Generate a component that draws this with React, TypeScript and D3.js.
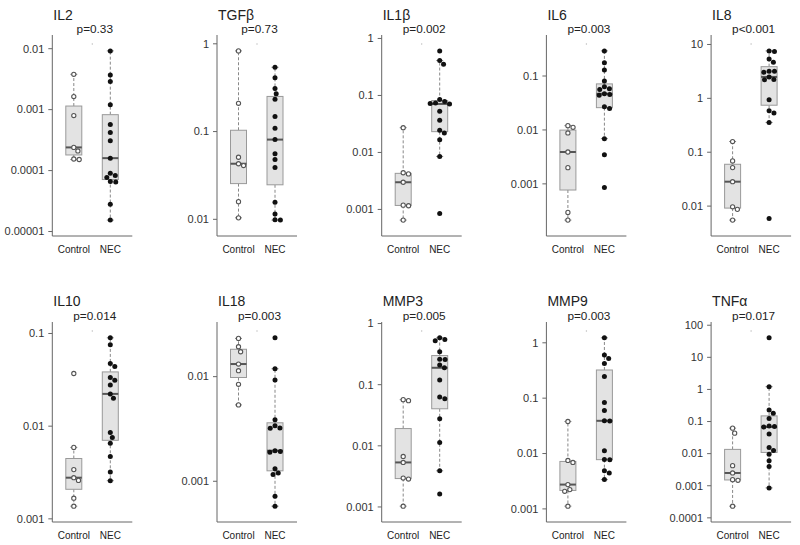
import React from "react";
import * as d3 from "d3";

// values (relative expression, log scale)
const il2Control = [0.0038, 0.00164, 0.0008, 0.00024, 0.00021, 0.000155, 0.000152];
const il2Nec = [0.0092, 0.0037, 0.0029, 0.0012, 0.00057, 0.00042, 0.00031, 0.00016, 0.00009, 0.000083, 0.000077, 0.000066, 0.000065, 0.000028, 0.0000154];

const tgfbControl = [0.83, 0.21, 0.051, 0.043, 0.041, 0.0159, 0.0104];
const tgfbNec = [0.54, 0.41, 0.31, 0.27, 0.234, 0.148, 0.109, 0.081, 0.056, 0.048, 0.039, 0.0157, 0.0115, 0.0099, 0.0098];

const il1bControl = [0.0272, 0.0044, 0.0042, 0.003, 0.00119, 0.00116, 0.00065];
const il1bNec = [0.605, 0.41, 0.352, 0.085, 0.078, 0.074, 0.072, 0.071, 0.053, 0.0367, 0.0245, 0.0219, 0.0167, 0.0085, 0.00085];

const il6Control = [0.012, 0.0112, 0.0088, 0.0039, 0.002, 0.000296, 0.000213];
const il6Nec = [0.292, 0.177, 0.129, 0.0807, 0.0632, 0.058, 0.0564, 0.0469, 0.0455, 0.0442, 0.0268, 0.025, 0.0069, 0.00347, 0.00086];

const il8Control = [0.158, 0.069, 0.0518, 0.0284, 0.0097, 0.0087, 0.0055];
const il8Nec = [7.6, 7.4, 5.4, 4.69, 3.2, 3.18, 3.05, 2.5, 2.24, 2.22, 0.944, 0.589, 0.533, 0.357, 0.0059];

const il10Control = [0.037, 0.0059, 0.0034, 0.00278, 0.0026, 0.00167, 0.00137];
const il10Nec = [0.0898, 0.0755, 0.0475, 0.0441, 0.0336, 0.0312, 0.0278, 0.0223, 0.02, 0.00855, 0.00755, 0.00656, 0.00472, 0.0032, 0.00258];

const il18Control = [0.0232, 0.0193, 0.0173, 0.0132, 0.0114, 0.00845, 0.00537];
const il18Nec = [0.0235, 0.0119, 0.0093, 0.00387, 0.00339, 0.00323, 0.00321, 0.00196, 0.00193, 0.00189, 0.00132, 0.0012, 0.00116, 0.00072, 0.000578];

const mmp3Control = [0.0569, 0.0548, 0.0067, 0.00535, 0.00297, 0.00286, 0.00103];
const mmp3Nec = [0.584, 0.548, 0.521, 0.345, 0.26, 0.258, 0.209, 0.189, 0.119, 0.063, 0.059, 0.0276, 0.0113, 0.0039, 0.00163];

const mmp9Control = [0.0379, 0.0075, 0.0069, 0.00275, 0.00223, 0.00208, 0.00112];
const mmp9Nec = [1.23, 0.6, 0.523, 0.425, 0.245, 0.0832, 0.0598, 0.039, 0.0388, 0.0112, 0.0078, 0.0077, 0.0049, 0.00445, 0.00338];

const tnfaControl = [0.0622, 0.0435, 0.00423, 0.0025, 0.00155, 0.00148, 0.000231];
const tnfaNec = [40.5, 1.22, 0.23, 0.18, 0.125, 0.072, 0.07, 0.068, 0.0406, 0.0156, 0.0125, 0.0095, 0.006, 0.004, 0.000857];

const titles = ["IL2", "TGFβ", "IL1β", "IL6", "IL8", "IL10", "IL18", "MMP3", "MMP9", "TNFα"];
const pLabels = ["p=0.33", "p=0.73", "p=0.002", "p=0.003", "p<0.001", "p=0.014", "p=0.003", "p=0.005", "p=0.003", "p=0.017"];
const groups = ["Control", "NEC"];
const controls = [il2Control, tgfbControl, il1bControl, il6Control, il8Control, il10Control, il18Control, mmp3Control, mmp9Control, tnfaControl];
const necs = [il2Nec, tgfbNec, il1bNec, il6Nec, il8Nec, il10Nec, il18Nec, mmp3Nec, mmp9Nec, tnfaNec];

const font = "'Liberation Sans', Arial, sans-serif";

// Tukey five-number summary (as R's boxplot does)
function fivenum(v: number[]) {
  const x = [...v].sort((a, b) => a - b);
  const n = x.length;
  const n4 = Math.floor((n + 3) / 2) / 2;
  const d = [1, n4, (n + 1) / 2, n + 1 - n4, n];
  return d.map((k) => 0.5 * (x[Math.floor(k) - 1] + x[Math.ceil(k) - 1]));
}

// simple beeswarm: horizontal offsets so points don't overlap
function swarm(ys: number[], d: number) {
  const order = ys.map((_, i) => i).sort((a, b) => ys[a] - ys[b]);
  const placed: { x: number; y: number }[] = [];
  const out = new Array(ys.length).fill(0);
  for (const i of order) {
    const y = ys[i];
    const near = placed.filter((p) => Math.abs(p.y - y) < d);
    const cands = [0];
    near.forEach((p) => {
      const dx = Math.sqrt(d * d - (p.y - y) ** 2);
      cands.push(p.x + dx, p.x - dx);
    });
    cands.sort((a, b) => Math.abs(a) - Math.abs(b) || b - a);
    const x = cands.find((c) => near.every((p) => (p.x - c) ** 2 + (p.y - y) ** 2 >= d * d - 0.01)) ?? 0;
    placed.push({ x, y });
    out[i] = x;
  }
  return out;
}

function tickLabel(k: number) {
  return k < 0 ? Math.pow(10, k).toFixed(-k) : String(Math.pow(10, k));
}

function Panel({ idx }: { idx: number }) {
  const col = idx % 5;
  const row = Math.floor(idx / 5);
  const ax = 52.3 + 164.7 * col;
  const top = row === 0 ? 35 : 322;
  const bottom = row === 0 ? 236 : 522;

  const all = [...controls[idx], ...necs[idx]].map(Math.log10);
  const [lo, hi] = d3.extent(all) as [number, number];
  const pad = (hi - lo) * 0.094;
  const y = d3.scaleLog().domain([10 ** (lo - pad), 10 ** (hi + pad)]).range([bottom, top]);
  const x = d3.scalePoint<string>().domain(groups).range([ax + 21.5, ax + 58]);

  const ticks: number[] = [];
  for (let k = Math.ceil(lo - pad); k <= Math.floor(hi + pad); k++) ticks.push(k);

  const series = [controls[idx], necs[idx]];

  return (
    <g>
      <text x={ax + 1} y={row === 0 ? 20 : 306} fontSize={14} fill="#222" fontFamily={font}>
        {titles[idx]}
      </text>
      <text x={ax + 42.5} y={row === 0 ? 33 : 319.5} fontSize={11.8} fill="#222" textAnchor="middle" fontFamily={font}>
        {pLabels[idx]}
      </text>
      <circle cx={ax + 40} cy={top + 9} r={0.7} fill="#bbb" />
      <path d={`M${ax},${top}V${bottom}H${ax + 80}`} fill="none" stroke="#666" strokeWidth={1} />
      {ticks.map((k) => (
        <g key={k}>
          <line x1={ax - 4} x2={ax} y1={y(10 ** k)} y2={y(10 ** k)} stroke="#666" />
          <text x={ax - 8} y={y(10 ** k)} dy="0.35em" fontSize={11} textAnchor="end" fill="#333" fontFamily={font}>
            {tickLabel(k)}
          </text>
        </g>
      ))}
      {groups.map((g, gi) => {
        const cx = x(g) as number;
        const vals = series[gi];
        const logs = vals.map(Math.log10);
        const [, q1, med, q3] = fivenum(logs);
        const iqr = q3 - q1;
        const wLo = d3.min(logs.filter((v) => v >= q1 - 1.5 * iqr)) as number;
        const wHi = d3.max(logs.filter((v) => v <= q3 + 1.5 * iqr)) as number;
        const py = vals.map((v) => y(v));
        const offs = swarm(py, 5.4);
        const bw = 8;
        return (
          <g key={g}>
            <line x1={cx} x2={cx} y1={y(10 ** q3)} y2={y(10 ** wHi)} stroke="#888" strokeDasharray="3,2" />
            <line x1={cx} x2={cx} y1={y(10 ** q1)} y2={y(10 ** wLo)} stroke="#888" strokeDasharray="3,2" />
            <line x1={cx - 3.5} x2={cx + 3.5} y1={y(10 ** wHi)} y2={y(10 ** wHi)} stroke="#888" />
            <line x1={cx - 3.5} x2={cx + 3.5} y1={y(10 ** wLo)} y2={y(10 ** wLo)} stroke="#888" />
            <rect x={cx - bw} y={y(10 ** q3)} width={bw * 2} height={y(10 ** q1) - y(10 ** q3)} fill="#e3e3e3" stroke="#999" />
            <line x1={cx - bw} x2={cx + bw} y1={y(10 ** med)} y2={y(10 ** med)} stroke="#555" strokeWidth={2} />
            {vals.map((v, i) =>
              gi === 0 ? (
                <circle key={i} cx={cx + offs[i]} cy={py[i]} r={2.1} fill="#fff" stroke="#555" strokeWidth={1.1} />
              ) : (
                <circle key={i} cx={cx + offs[i]} cy={py[i]} r={2.5} fill="#111" />
              )
            )}
            <text x={cx} y={bottom + 16.5} fontSize={10} textAnchor="middle" fill="#222" fontFamily={font}>
              {g}
            </text>
          </g>
        );
      })}
    </g>
  );
}

export default function App() {
  return (
    <svg width={800} height={545} style={{ position: "absolute", left: 0, top: 0, background: "#fff" }}>
      <rect width={800} height={545} fill="#fff" />
      {titles.map((_, i) => (
        <Panel key={i} idx={i} />
      ))}
    </svg>
  );
}
